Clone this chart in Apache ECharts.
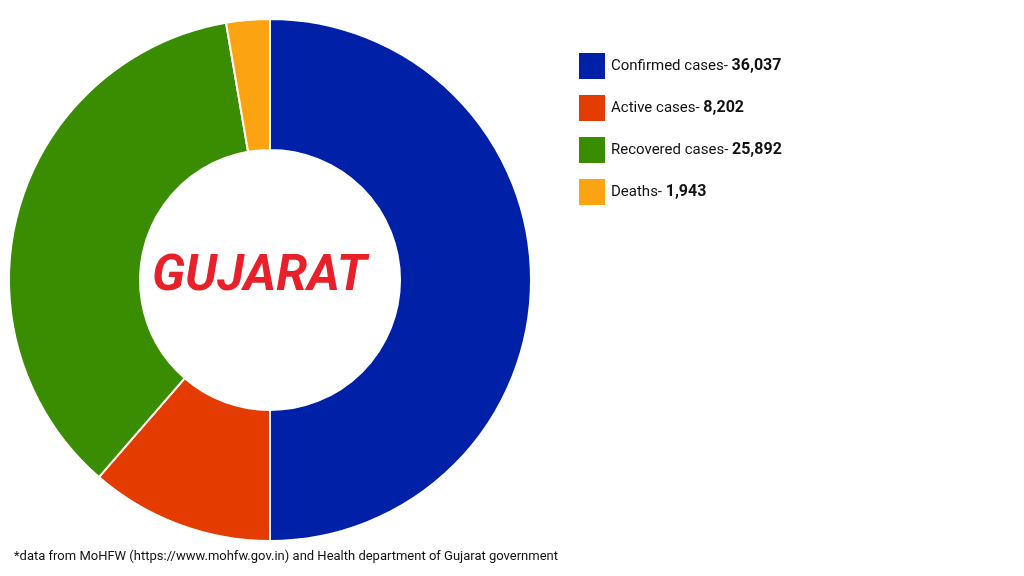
<!DOCTYPE html>
<html>
<head>
<meta charset="utf-8">
<script src="https://cdn.jsdelivr.net/npm/echarts@6/dist/echarts.min.js"></script>
<style>html,body{margin:0;padding:0;background:#fff}#main{width:1024px;height:576px}</style>
</head>
<body>
<div id="main"></div>
<script>
// data
var labels = ["Confirmed cases", "Active cases", "Recovered cases", "Deaths"];
var values = [36037, 8202, 25892, 1943];
var colors = ["#0020a8", "#e43c00", "#3a8c00", "#fca311"];

var chart = echarts.init(document.getElementById("main"));
var data = labels.map(function (n, i) {
  return { name: n, value: values[i], itemStyle: { color: colors[i] } };
});

chart.setOption({
  animation: false,
  legend: {
    orient: "vertical",
    left: 572,
    top: 46,
    itemWidth: 28,
    itemHeight: 28,
    itemGap: 12,
    icon: "rect",
    selectedMode: false,
    formatter: function (name) {
      var i = labels.indexOf(name);
      return "{a|" + name + "- }{b|" + values[i].toLocaleString("en-US") + "}";
    },
    textStyle: {
      rich: {
        a: { fontFamily: "Roboto", fontSize: 15, color: "#111" },
        b: { fontFamily: "Roboto", fontSize: 16, fontWeight: "bold", color: "#111" }
      }
    }
  },
  graphic: [
    {
      type: "text", left: 152, top: 252,
      style: { text: "GUJARAT", font: "italic bold 50px Roboto", fill: "#e8202a" }
    },
    {
      type: "text", left: 14, top: 550,
      style: { text: "*data from MoHFW (https://www.mohfw.gov.in) and Health department of Gujarat government", font: "13px Roboto", fill: "#111" }
    }
  ],
  series: [{
    type: "pie",
    center: [270, 280],
    radius: [130, 261],
    startAngle: 90,
    clockwise: true,
    label: { show: false },
    labelLine: { show: false },
    itemStyle: { borderColor: "#fff", borderWidth: 2 },
    data: data
  }]
});
</script>
</body>
</html>
